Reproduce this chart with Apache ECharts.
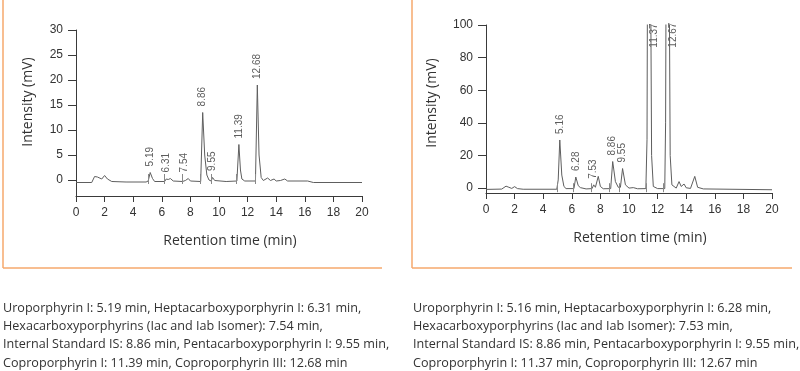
<!DOCTYPE html>
<html><head><meta charset="utf-8">
<script src="https://cdn.jsdelivr.net/npm/echarts@6/dist/echarts.min.js"></script>
<style>html,body{margin:0;padding:0;background:#fff}#c{width:800px;height:371px}</style>
</head><body><div id="c"></div>
<script>
// ---- data ----
const xTicks = [0,2,4,6,8,10,12,14,16,18,20];
const leftYTicks = [0,5,10,15,20,25,30];
const rightYTicks = [0,20,40,60,80,100];

const leftTrace = [[0,-0.5],[1.1,-0.5],[1.3,0.7],[1.5,0.6],[1.8,0.2],[2.0,0.9],[2.2,0.2],[2.5,-0.3],[3.5,-0.4],[4.9,-0.4],[5.05,-0.2],[5.19,1.5],[5.35,0.3],[5.5,-0.3],[6.2,-0.3],[6.31,0.2],[6.45,0.1],[6.6,0.3],[6.8,-0.2],[7.45,-0.3],[7.54,0.0],[7.65,-0.1],[7.85,0.3],[8.0,-0.2],[8.72,-0.3],[8.86,13.5],[9.0,5],[9.15,1],[9.3,0],[9.45,-0.2],[9.55,0.5],[9.7,-0.1],[10.5,-0.3],[11.25,-0.2],[11.39,7.1],[11.5,2],[11.6,0.2],[11.8,-0.2],[12.55,-0.2],[12.68,19],[12.8,5],[12.95,0.5],[13.1,-0.1],[13.4,0.4],[13.6,-0.1],[13.85,0.2],[14.0,-0.2],[14.3,-0.1],[14.6,0.2],[14.8,-0.2],[16.2,-0.2],[16.6,-0.5],[20,-0.5]];
const rightTrace = [[0,-0.8],[1.1,-0.6],[1.4,1.2],[1.6,0.5],[1.8,-0.2],[2.0,0.9],[2.2,-0.3],[2.6,-0.7],[4.95,-0.7],[5.05,5],[5.16,29.5],[5.3,8],[5.45,1],[5.6,-0.3],[6.15,-0.3],[6.28,6.8],[6.45,1.5],[6.6,0.3],[7.0,-0.5],[7.42,-0.3],[7.53,2.0],[7.65,0.5],[7.85,7.2],[8.0,1],[8.2,-0.4],[8.72,-0.3],[8.86,16.3],[9.05,4],[9.25,0.5],[9.4,0.5],[9.55,12],[9.75,2],[10.0,0],[10.3,0.3],[10.6,-0.4],[11.18,-0.3],[11.26,30],[11.3,150],[11.5,150],[11.58,20],[11.7,1],[12.0,-0.3],[12.5,-0.3],[12.56,40],[12.6,150],[12.8,150],[12.88,20],[13.0,2],[13.3,0],[13.5,4],[13.65,1],[13.85,2.5],[14.0,0.2],[14.3,-0.2],[14.6,7.2],[14.8,0.5],[15.2,-0.5],[20,-1]];

const leftPeakTimes = [5.19,6.31,7.54,8.86,9.55,11.39,12.68];
const leftPeakHeights = [1.5,0.3,0.3,13.5,0.6,7.1,19];
const leftPeakLabels = ['5.19','6.31','7.54','8.86','9.55','11.39','12.68'];
const rightPeakTimes = [5.16,6.28,7.53,8.86,9.55,11.37,12.67];
const rightPeakHeights = [29.5,6.8,2.0,16.3,12,83,83];
const rightPeakLabels = ['5.16','6.28','7.53','8.86','9.55','11.37','12.67'];

const leftCuts = [5.05,6.15,7.4,8.68,9.44,11.22,12.55];
const rightCuts = [5.0,6.1,7.35,8.65,9.35,11.18,12.42];

const leftCaption = [
 'Uroporphyrin I: 5.19 min, Heptacarboxyporphyrin I: 6.31 min,',
 'Hexacarboxyporphyrins (Iac and Iab Isomer): 7.54 min,',
 'Internal Standard IS: 8.86 min, Pentacarboxyporphyrin I: 9.55 min,',
 'Coproporphyrin I: 11.39 min, Coproporphyrin III: 12.68 min'];
const rightCaption = [
 'Uroporphyrin I: 5.16 min, Heptacarboxyporphyrin I: 6.28 min,',
 'Hexacarboxyporphyrins (Iac and Iab Isomer): 7.53 min,',
 'Internal Standard IS: 8.86 min, Pentacarboxyporphyrin I: 9.55 min,',
 'Coproporphyrin I: 11.37 min, Coproporphyrin III: 12.67 min'];

// ---- chart ----
const chart = echarts.init(document.getElementById('c'));
const AX = '#3a3a3a', TXT = '#333', ORANGE = '#f6a86c';
const tickFont = {fontFamily:'Liberation Sans', fontSize:12, color:TXT};
const nameFont = {fontFamily:'Open Sans', fontSize:14, color:'#333'};

function xAxis(gi){
  return {type:'value', gridIndex:gi, min:0, max:20, interval:2,
    axisLine:{show:true, onZero:false, lineStyle:{color:AX,width:1}},
    axisTick:{show:true, length:6, lineStyle:{color:AX}},
    axisLabel:Object.assign({margin:11}, tickFont),
    splitLine:{show:false},
    name:'Retention time (min)', nameLocation:'middle', nameGap:38,
    nameTextStyle:Object.assign({padding:[0,0,0,22]}, nameFont)};
}
function yAxis(gi, min, max, ticks, gap, shift){
  return {type:'value', gridIndex:gi, min:min, max:max,
    axisLine:{show:true, lineStyle:{color:AX,width:1}},
    axisTick:{show:true, length:8, customValues:ticks, lineStyle:{color:AX}},
    axisLabel:Object.assign({margin:13, customValues:ticks}, tickFont),
    splitLine:{show:false},
    name:'Intensity (mV)', nameLocation:'middle', nameGap:gap,
    nameTextStyle:Object.assign({padding:[0,0,0,shift]}, nameFont)};
}
function traceSeries(i, data, cuts, lo, hi){
  return {type:'line', xAxisIndex:i, yAxisIndex:i, data:data, symbol:'none',
    clip:true, lineStyle:{color:'#5e5e5e', width:1}, silent:true,
    markLine:{silent:true, symbol:['none','none'], label:{show:false},
      lineStyle:{color:'#888', width:1, type:'solid'},
      data:cuts.map(t=>[{coord:[t,lo]},{coord:[t,hi]}])}};
}
function labelSeries(i, times, heights, labels, offsets){
  return {type:'scatter', xAxisIndex:i, yAxisIndex:i, symbolSize:0.1, clip:false,
    itemStyle:{color:'rgba(0,0,0,0)'}, silent:true,
    data:times.map((t,k)=>({value:[t,heights[k]], name:labels[k],
      label: offsets && offsets[k] ? {offset:offsets[k]} : undefined})),
    label:{show:true, position:'top', distance:6, rotate:90, align:'left', verticalAlign:'middle',
      formatter:p=>p.name, fontFamily:'Liberation Sans', fontSize:10, color:TXT}};
}

const graphics = [
  {type:'line', shape:{x1:3,y1:0,x2:3,y2:268}, style:{stroke:ORANGE,lineWidth:1.5}},
  {type:'line', shape:{x1:3,y1:268,x2:382,y2:268}, style:{stroke:ORANGE,lineWidth:1.5}},
  {type:'line', shape:{x1:412,y1:0,x2:412,y2:268}, style:{stroke:ORANGE,lineWidth:1.5}},
  {type:'line', shape:{x1:412,y1:268,x2:792,y2:268}, style:{stroke:ORANGE,lineWidth:1.5}}
];
const capY = [308,326,344,363];
const capStyle = {fontFamily:'Open Sans', fontSize:12.6, fill:'#333', verticalAlign:'middle'};
leftCaption.forEach((s,k)=>graphics.push({type:'text', x:3, y:capY[k],
  style:Object.assign({text:s}, capStyle)}));
rightCaption.forEach((s,k)=>graphics.push({type:'text', x:413, y:capY[k],
  style:Object.assign({text:s}, capStyle)}));

chart.setOption({
  animation:false,
  grid:[{left:76, top:30, width:286, height:166},
        {left:486, top:25, width:286, height:168}],
  xAxis:[xAxis(0), xAxis(1)],
  yAxis:[yAxis(0,-3.2,30,leftYTicks,41,22), yAxis(1,-3,100,rightYTicks,47,12)],
  series:[
    traceSeries(0, leftTrace, leftCuts, -0.8, 1.2),
    traceSeries(1, rightTrace, rightCuts, -2.5, 3),
    labelSeries(0, leftPeakTimes, leftPeakHeights, leftPeakLabels),
    labelSeries(1, rightPeakTimes, rightPeakHeights, rightPeakLabels, [null,null,null,null,null,[-1,6],[-1,6]])
  ],
  graphic:graphics
});
</script></body></html>
